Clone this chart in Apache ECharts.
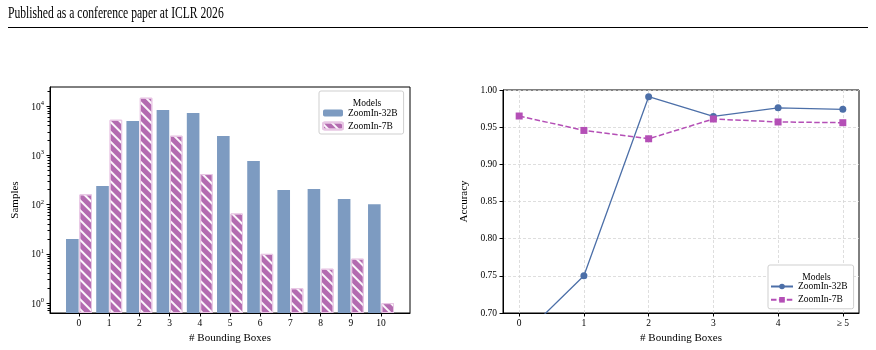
<!DOCTYPE html>
<html>
<head>
<meta charset="utf-8">
<script src="https://cdn.jsdelivr.net/npm/echarts@6/dist/echarts.min.js"></script>
<style>
    html, body { margin: 0; padding: 0; background: #fff; }
    #page { position: relative; width: 876px; height: 350px; overflow: hidden; }
    #header { position: absolute; left: 8px; top: 3px; font-family: "Liberation Serif", serif; font-size: 17px; color: #000;
              transform: scaleX(0.683); transform-origin: 0 0; white-space: nowrap; }
    #rule { position: absolute; left: 8px; top: 27px; width: 860px; height: 1px; background: #000; }
    .chart-box { position: absolute; top: 0; width: 438px; height: 350px; }
</style>
</head>
<body>
<div id="page">
    <div id="leftChart" class="chart-box" style="left:0"></div>
    <div id="rightChart" class="chart-box" style="left:438px"></div>
    <div id="header">Published as a conference paper at ICLR 2026</div>
    <div id="rule"></div>
</div>
<script>
// ===== 数据 =====
const boxCounts = [0, 1, 2, 3, 4, 5, 6, 7, 8, 9, 10];
const samples32B = [20, 238, 4960, 8300, 7210, 2460, 764, 197, 206, 129, 102];
const samples7B = [161, 5270, 14750, 2500, 416, 66, 10, 2, 5, 8, 1];

const accBins = [0, 1, 2, 3, 4, 5];
const accBinLabels = ['0', '1', '2', '3', '4', '≥ 5'];
const acc32B = [0.665, 0.750, 0.991, 0.9645, 0.976, 0.974];
const acc7B = [0.965, 0.9456, 0.9344, 0.961, 0.957, 0.956];

const logMajorTicks = [1, 10, 100, 1000, 10000];

const seriesNames = ['ZoomIn-32B', 'ZoomIn-7B'];

const FONT = '"Liberation Serif", "DejaVu Serif", serif';
const Colors = {
    bar32B: '#7d9bc1',
    bar7B: '#b36bb0',
    bar7BEdge: '#e8c6e4',
    line32B: '#4c6fa8',
    line7B: '#b44fb6',
    grid: '#d6d6d6',
};

const axisLine = { show: true, onZero: false, lineStyle: { color: '#000', width: 1 } };
const tickStyle = { lineStyle: { color: '#000', width: 1 } };
const labelStyle = { color: '#000', fontFamily: FONT, fontSize: 9.5 };
const nameStyle = { color: '#000', fontFamily: FONT, fontSize: 11 };
const legendText = { color: '#000', fontFamily: FONT, fontSize: 9.5, lineHeight: 12 };

// ===== 左图: 样本数柱状图 (对数轴) =====
const leftChart = echarts.init(document.getElementById('leftChart'), null, { renderer: 'canvas' });
leftChart.setOption({
    animation: false,
    textStyle: { fontFamily: FONT },
    grid: { left: 50, top: 87, width: 360, height: 226, show: true, borderColor: '#000', borderWidth: 1, backgroundColor: 'transparent' },
    title: {
        text: 'Models', left: 362, top: 93, textAlign: 'center',
        textStyle: { fontFamily: FONT, fontSize: 9.5, fontWeight: 'normal', color: '#000' },
        z: 10,
    },
    legend: {
        data: seriesNames,
        orient: 'vertical',
        left: 319, top: 91,
        padding: [16, 6, 2, 3],
        itemWidth: 20, itemHeight: 7, itemGap: 1,
        backgroundColor: '#fff',
        borderColor: '#cfcfcf', borderWidth: 1, borderRadius: 2,
        textStyle: legendText,
        selectedMode: false,
    },
    xAxis: {
        type: 'value',
        min: -0.96, max: 10.96,
        name: '# Bounding Boxes', nameLocation: 'middle', nameGap: 16, nameTextStyle: nameStyle,
        axisLine: axisLine,
        axisTick: { show: true, customValues: boxCounts, length: 3.5, ...tickStyle },
        axisLabel: { ...labelStyle, customValues: boxCounts, margin: 5 },
        splitLine: { show: false },
    },
    yAxis: {
        type: 'log', logBase: 10,
        min: 0.63, max: 24300,
        startValue: 0.63,
        name: 'Samples', nameLocation: 'middle', nameGap: 18, nameTextStyle: nameStyle,
        axisLine: axisLine,
        axisTick: { show: true, customValues: logMajorTicks, length: 3.5, ...tickStyle },
        minorTick: { show: true, splitNumber: 9, length: 2.5, lineStyle: { color: '#000', width: 1 } },
        axisLabel: {
            customValues: logMajorTicks, margin: 6,
            formatter: v => '{b|10}{s|' + Math.round(Math.log10(v)) + '}',
            rich: {
                b: { fontFamily: FONT, fontSize: 9.5, color: '#000', verticalAlign: 'bottom' },
                s: { fontFamily: FONT, fontSize: 6.5, color: '#000', verticalAlign: 'bottom', padding: [0, 0, 5, 0] },
            },
        },
        splitLine: { show: false },
    },
    series: [{
        name: seriesNames[0],
        type: 'bar',
        data: boxCounts.map((b, i) => [b, samples32B[i]]),
        barWidth: 12.6,
        barGap: '6%',
        itemStyle: { color: Colors.bar32B },
    }, {
        name: seriesNames[1],
        type: 'bar',
        data: boxCounts.map((b, i) => [b, samples7B[i]]),
        barWidth: 12.6,
        barGap: '6%',
        itemStyle: {
            color: Colors.bar7B,
            borderColor: Colors.bar7BEdge,
            borderWidth: 1,
            decal: {
                symbol: 'rect', symbolSize: 1,
                dashArrayX: [1, 0], dashArrayY: [1.3, 4.4],
                rotation: Math.PI / 4,
                color: 'rgba(255,255,255,0.95)',
            },
        },
    }],
});

// ===== 右图: 准确率折线图 =====
const rightChart = echarts.init(document.getElementById('rightChart'), null, { renderer: 'canvas' });
rightChart.setOption({
    animation: false,
    textStyle: { fontFamily: FONT },
    grid: { left: 65, top: 90, width: 356, height: 223, show: true, borderColor: '#000', borderWidth: 1, backgroundColor: 'transparent' },
    title: {
        text: 'Models', left: 373.5, top: 267, textAlign: 'center',
        textStyle: { fontFamily: FONT, fontSize: 9.5, fontWeight: 'normal', color: '#000' },
        z: 10,
    },
    legend: {
        data: seriesNames,
        orient: 'vertical',
        left: 330, top: 265,
        padding: [15.5, 6, 3, 2],
        itemWidth: 22, itemHeight: 7, itemGap: 1.3,
        backgroundColor: '#fff',
        borderColor: '#cfcfcf', borderWidth: 1, borderRadius: 2,
        textStyle: legendText,
        selectedMode: false,
    },
    xAxis: {
        type: 'value',
        min: -0.25, max: 5.25,
        name: '# Bounding Boxes', nameLocation: 'middle', nameGap: 16, nameTextStyle: nameStyle,
        axisLine: axisLine,
        axisTick: { show: true, customValues: accBins, length: 3.5, ...tickStyle },
        axisLabel: { ...labelStyle, customValues: accBins, margin: 5, formatter: v => accBinLabels[Math.round(v)] },
        splitLine: { show: true, lineStyle: { color: Colors.grid, type: [3, 2], width: 0.8 } },
    },
    yAxis: {
        type: 'value',
        min: 0.70, max: 1.00, interval: 0.05,
        name: 'Accuracy', nameLocation: 'middle', nameGap: 21, nameTextStyle: nameStyle,
        axisLine: axisLine,
        axisTick: { show: true, length: 3.5, ...tickStyle },
        axisLabel: { ...labelStyle, margin: 6, formatter: v => v.toFixed(2) },
        splitLine: { show: true, lineStyle: { color: Colors.grid, type: [3, 2], width: 0.8 } },
    },
    series: [{
        name: seriesNames[0],
        type: 'line',
        data: accBins.map((b, i) => [b, acc32B[i]]),
        clip: true,
        symbol: 'circle', symbolSize: 7,
        lineStyle: { color: Colors.line32B, width: 1.3 },
        itemStyle: { color: Colors.line32B },
    }, {
        name: seriesNames[1],
        type: 'line',
        data: accBins.map((b, i) => [b, acc7B[i]]),
        clip: true,
        symbol: 'rect', symbolSize: 7,
        lineStyle: { color: Colors.line7B, width: 1.5, type: [5.5, 2.4] },
        itemStyle: { color: Colors.line7B },
    }],
});
</script>
</body>
</html>
